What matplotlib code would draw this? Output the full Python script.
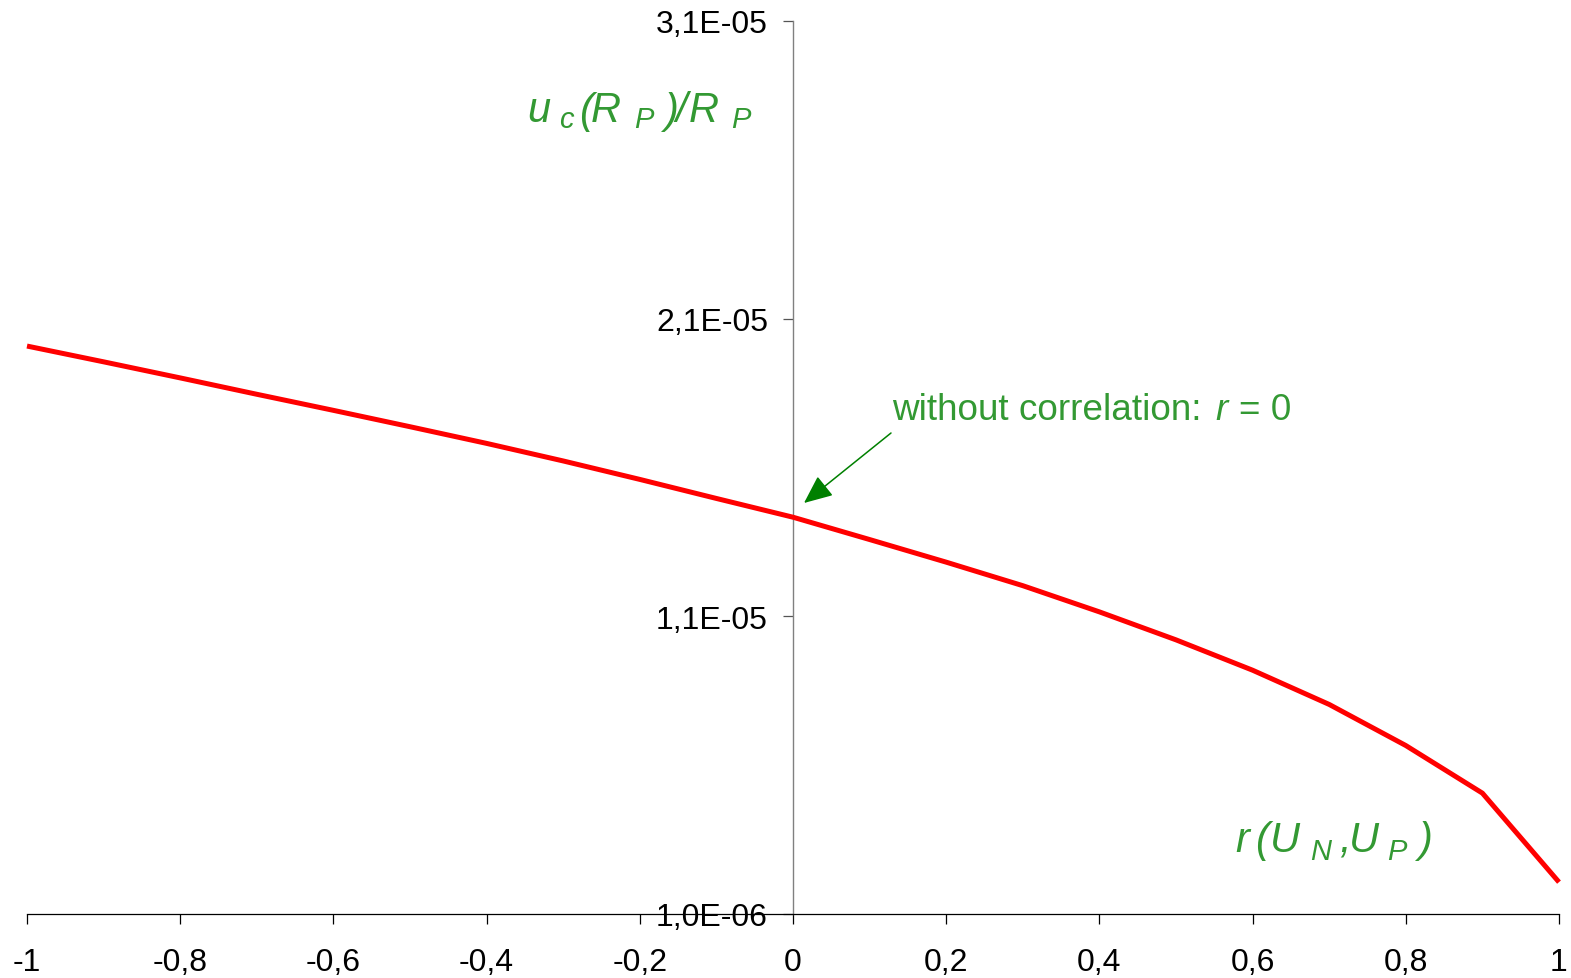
import matplotlib
matplotlib.use("Agg")
import matplotlib.pyplot as plt
from matplotlib.ticker import FixedLocator

# ---- data ----
r_values = [-1.0, -0.9, -0.8, -0.7, -0.6, -0.5, -0.4, -0.3, -0.2, -0.1, 0.0,
            0.1, 0.2, 0.3, 0.4, 0.5, 0.6, 0.7, 0.8, 0.9, 1.0]
uc_rel = [20.08e-6, 19.55e-6, 19.01e-6, 18.46e-6, 17.92e-6, 17.37e-6, 16.81e-6,
          16.22e-6, 15.60e-6, 14.96e-6, 14.33e-6, 13.58e-6, 12.82e-6, 12.03e-6,
          11.15e-6, 10.21e-6, 9.19e-6, 8.04e-6, 6.66e-6, 5.06e-6, 2.07e-6]
x_ticks = [-1, -0.8, -0.6, -0.4, -0.2, 0, 0.2, 0.4, 0.6, 0.8, 1]
x_tick_labels = ["-1", "-0,8", "-0,6", "-0,4", "-0,2", "0", "0,2", "0,4", "0,6", "0,8", "1"]
y_ticks = [1.0e-6, 1.1e-5, 2.1e-5, 3.1e-5]
y_tick_labels = ["1,0E-06", "1,1E-05", "2,1E-05", "3,1E-05"]
annotation_text = "without correlation:"

FONT = "Liberation Sans"
GREEN = "#339933"
W, H = 1571, 979

plt.rcParams["font.family"] = [FONT, "DejaVu Sans"]

fig = plt.figure(figsize=(W / 100, H / 100), dpi=100)
ax = fig.add_axes([27 / W, (H - 915) / H, 1532 / W, 893 / H])

ax.plot(r_values, uc_rel, color="#ff0000", lw=3.6, clip_on=False, solid_capstyle="butt",
        solid_joinstyle="round", zorder=3)

ax.set_xlim(-1, 1)
ax.set_ylim(1.0e-6, 3.1e-5)

for s in ("top", "right"):
    ax.spines[s].set_visible(False)
ax.spines["left"].set_position(("data", 0))
ax.spines["left"].set_color("#808080")
ax.spines["left"].set_linewidth(1.0)
ax.spines["bottom"].set_color("#000000")
ax.spines["bottom"].set_linewidth(0.9)

ax.xaxis.set_major_locator(FixedLocator(x_ticks))
ax.set_xticklabels(x_tick_labels)
ax.yaxis.set_major_locator(FixedLocator(y_ticks))
ax.set_yticklabels(y_tick_labels)
ax.tick_params(axis="x", direction="out", length=7, width=0.9, color="#000000",
               pad=17, labelsize=23, labelcolor="black")
ax.tick_params(axis="y", direction="out", length=7, width=0.9, color="#555555",
               pad=11, labelsize=23, labelcolor="black")
ax.minorticks_off()


def px(x, y):
    return x / W, 1 - y / H


def piece(x, y, s, size, style="italic"):
    fig.text(*px(x, y), s, fontsize=size, color=GREEN, style=style,
             family=FONT, ha="left", va="baseline")


BIG, SUB = 30, 21

# y-axis label: u_c(R_P)/R_P
piece(527, 122.5, "u", BIG)
piece(559, 127.5, "c", SUB)
piece(579, 122.5, "(", BIG)
piece(591, 122.5, "R", BIG)
piece(634, 127.5, "P", SUB)
piece(664, 122.5, ")", BIG)
piece(675, 122.5, "/", BIG)
piece(689, 122.5, "R", BIG)
piece(731, 127.5, "P", SUB)

# x-axis label: r(U_N,U_P)
piece(1235, 852, "r", BIG)
piece(1255, 852, "(", BIG)
piece(1270, 852, "U", BIG)
piece(1310, 860, "N", SUB)
piece(1339, 852, ",", BIG)
piece(1349, 852, "U", BIG)
piece(1387, 860, "P", SUB)
piece(1418, 852, ")", BIG)

# annotation
piece(892, 420, annotation_text, 26.6, style="normal")
piece(1215, 420, "r", 26.6)
piece(1239, 420, "= 0", 26.6, style="normal")

ax.annotate("", xy=(804, H - 504), xycoords="figure pixels",
            xytext=(891, H - 434), textcoords="figure pixels",
            arrowprops=dict(arrowstyle="-|>,head_length=0.8,head_width=0.35",
                            color="#008000", lw=1.1, mutation_scale=22,
                            shrinkA=0, shrinkB=0))

fig.savefig("out.png", dpi=100, facecolor="white")
